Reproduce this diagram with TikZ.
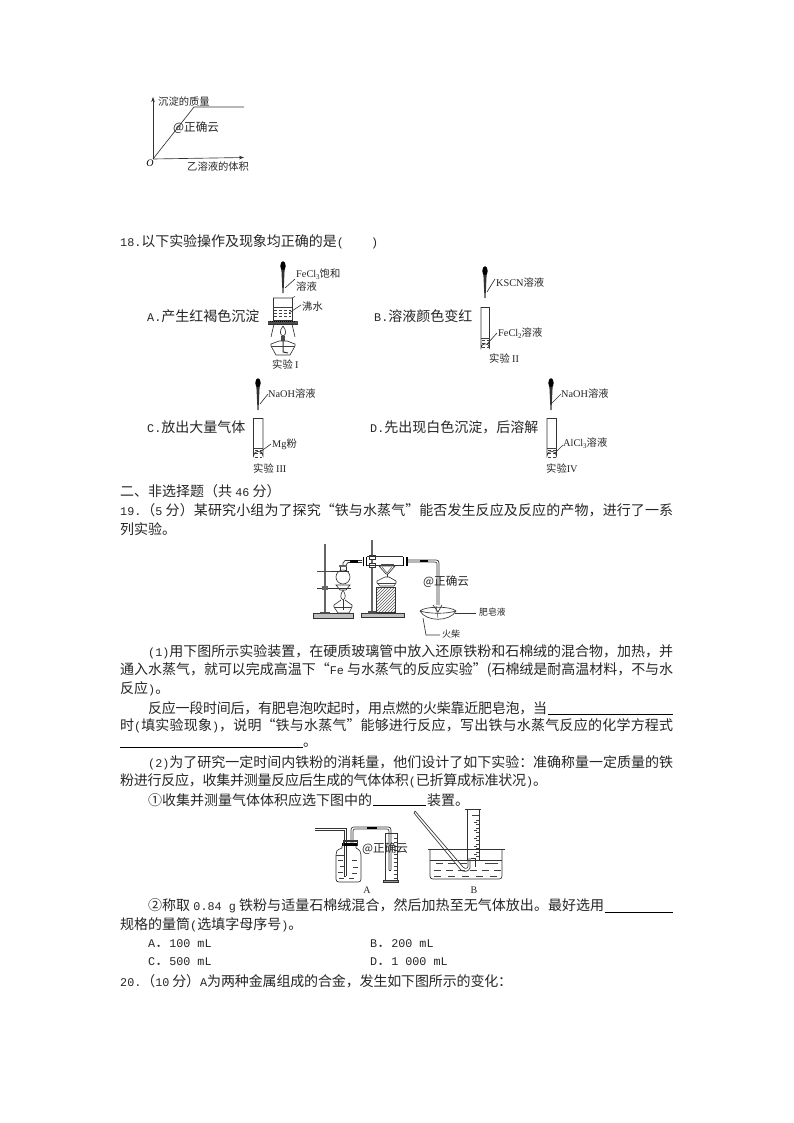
\documentclass[tikz,border=0pt]{standalone}
\usepackage{fontspec}
\usepackage{graphicx}
\usetikzlibrary{patterns,arrows.meta,calc}
\setmainfont{Noto Sans CJK SC}
\newfontfamily\monolat[Scale=0.84]{Liberation Mono}
\newfontfamily\serlat{Liberation Serif}
\newcommand{\MM}[1]{{\monolat #1}}
\newcommand{\SR}[1]{{\serlat #1}}
\XeTeXinterchartokenstate=1
\newXeTeXintercharclass\cjkclass
\newcount\cjkn
\cjkn="4E00 \loop\ifnum\cjkn<"A000 \XeTeXcharclass\cjkn=\cjkclass \advance\cjkn by 1 \repeat
\cjkn="3000 \loop\ifnum\cjkn<"3040 \XeTeXcharclass\cjkn=\cjkclass \advance\cjkn by 1 \repeat
\cjkn="FF00 \loop\ifnum\cjkn<"FF60 \XeTeXcharclass\cjkn=\cjkclass \advance\cjkn by 1 \repeat
\XeTeXinterchartoks\cjkclass\cjkclass={\hskip 0pt plus 1pt minus .5pt\relax}
\tikzset{
  txt/.style={anchor=west,inner sep=0pt,font=\fontsize{14}{16}\selectfont,text=black!85},
  lab/.style={anchor=west,inner sep=0pt,font=\fontsize{10.3}{12}\selectfont,text=black!85},
  wm/.style={anchor=west,inner sep=0pt,font=\fontsize{11.6}{14}\selectfont,text=black!85},
  gl/.style={draw=black!80,line width=.65pt},
  thinl/.style={draw=black!75,line width=.45pt},
  rule/.style={draw=black,line width=.7pt},
}
% justified line of text
\newcommand{\tline}[5]{\node[txt] (#1) at (#2,#3) {\makebox[#4pt][s]{#5}};}
\newcommand{\dropperat}[2]{%
  \begin{scope}[shift={(#1,#2)}]
    \fill[black] (0,4) ellipse (2.7 and 4.8);
    \fill[black!80] (-1.6,8) -- (1.6,8) -- (.5,31) -- (-.5,31) -- cycle;
  \end{scope}}
\newcommand{\tubeat}[5]{% x left, width, y top, y bottom, y liquid
  \draw[gl] (#1,#3) -- (#1+#2,#3);
  \draw[gl] (#1,#3) -- (#1,#4-4) arc[start angle=180,end angle=360,radius=#2/2] -- (#1+#2,#3);
  \draw[thinl] (#1,#5) -- (#1+#2,#5);
  \foreach \dd in {2,5.5,9}{\draw[thinl,densely dashed] (#1+1,#5+\dd) -- (#1+#2-1,#5+\dd);}
}
\newcommand{\gradmarks}[4]{% x, ytop, ybottom, step
  \foreach \yy in {#2,#4,...,#3}{\draw[thinl] (#1,\yy) -- (#1-3,\yy);}
}
\begin{document}
\begin{tikzpicture}[x=1pt,y=-1pt]
\useasboundingbox[fill=white] (0,0) rectangle (794,1123);

% ---------- chart ----------
\coordinate (orig) at (153,159);
\coordinate (ytip) at (153,97);
\coordinate (xtip) at (244,157.5);
\coordinate (knee) at (194,107);
\coordinate (lend) at (244,107);
\draw[gl,-{Stealth[length=5pt,width=3.5pt]}] (orig) -- (ytip);
\draw[gl,-{Stealth[length=5pt,width=3.5pt]}] (orig) -- (xtip);
\draw[gl] (orig) -- (knee) -- (lend);
\node[lab] (cy) at (158,102) {沉淀的质量};
\node[lab] (cx) at (187,167) {乙溶液的体积};
\node[anchor=center,inner sep=0pt,font=\fontsize{10}{12}\selectfont\serlat\itshape] (c0) at (150,163) {O};
\node[wm] (cw) at (173,128) {@正确云};

% ---------- question 18 ----------
\tline{q18}{120}{242}{258}{\MM{18.}以下实验操作及现象均正确的是\MM{(~~~~)}}
\node[txt] (oa) at (147,316) {\MM{A.}产生红褐色沉淀};
\node[txt] (ob) at (374,316) {\MM{B.}溶液颜色变红};
\node[txt] (oc) at (147,427) {\MM{C.}放出大量气体};
\node[txt] (od) at (370,427) {\MM{D.}先出现白色沉淀，后溶解};

% ---------- experiment I ----------
\dropperat{283}{262}
\coordinate (l1a) at (285,288); \coordinate (l1b) at (295,279);
\draw[gl] (l1a) -- (l1b);
\node[lab] (t1a) at (296,274) {\SR{FeCl}\raisebox{-1.5pt}{\fontsize{7}{8}\selectfont\SR{3}}饱和};
\node[lab] (t1b) at (296,287) {溶液};
% beaker
\draw[gl] (273,298) -- (292,298) -- (295,296.5);
\draw[gl] (273,298) -- (273,320) -- (292,320) -- (292,298);
\draw[thinl] (273,307) -- (292,307);
\foreach \yy in {310,313,316}{\draw[thinl,densely dashed] (274,\yy) -- (291,\yy);}
\coordinate (l2a) at (289,313); \coordinate (l2b) at (301,305);
\draw[gl] (l2a) -- (l2b);
\node[lab] (t2) at (302,307) {沸水};
% gauze & ring
\fill[black!70] (268,321) rectangle (298,323.5);
\draw[line width=1pt,densely dotted,black] (270,321) -- (296,321);
\draw[gl] (268,324) -- (298,324);
% tripod
\draw[gl] (274,324) -- (271,337); \draw[gl] (292,324) -- (295,337);
% flame
\draw[gl] (283,326) .. controls (279,331) and (280,335) .. (283,336) .. controls (286,335) and (287,331) .. (283,326);
\fill[black!70] (281,336) rectangle (285,341);
% lamp
\draw[gl] (279,341) -- (271,344) -- (271,346) -- (276,355) -- (290,355) -- (295,346) -- (295,344) -- (287,341) -- cycle;
\draw[thinl] (271,346) -- (295,346);
\draw[gl,line width=1pt] (283,341) -- (283,352) -- (288,353);
\node[lab] (e1) at (272,365) {实验 \SR{I}};

% ---------- experiment II ----------
\dropperat{485}{267}
\coordinate (l3a) at (487,292); \coordinate (l3b) at (495,279);
\draw[gl] (l3a) -- (l3b);
\node[lab] (t3) at (496,283) {\SR{KSCN}溶液};
\tubeat{481}{8.5}{307}{352}{338}
\coordinate (l4a) at (488,343); \coordinate (l4b) at (497,333);
\draw[gl] (l4a) -- (l4b);
\node[lab] (t4) at (498,333) {\SR{FeCl}\raisebox{-1.5pt}{\fontsize{7}{8}\selectfont\SR{2}}溶液};
\node[lab] (e2) at (489,359) {实验 \SR{II}};

% ---------- experiment III ----------
\dropperat{258}{379}
\coordinate (l5a) at (260,404); \coordinate (l5b) at (268,394);
\draw[gl] (l5a) -- (l5b);
\node[lab] (t5) at (268,394) {\SR{NaOH}溶液};
\tubeat{253.5}{9.5}{418}{460}{448}
\coordinate (l6a) at (260,452); \coordinate (l6b) at (271,444);
\draw[gl] (l6a) -- (l6b);
\node[lab] (t6) at (272,444) {\SR{Mg}粉};
\node[lab] (e3) at (253,469) {实验 \SR{III}};

% ---------- experiment IV ----------
\dropperat{551}{379}
\coordinate (l7a) at (552,403); \coordinate (l7b) at (561,394);
\draw[gl] (l7a) -- (l7b);
\node[lab] (t7) at (561,394) {\SR{NaOH}溶液};
\tubeat{547}{9.5}{418}{460}{448}
\coordinate (l8a) at (555,453); \coordinate (l8b) at (563,445);
\draw[gl] (l8a) -- (l8b);
\node[lab] (t8) at (563,443) {\SR{AlCl}\raisebox{-1.5pt}{\fontsize{7}{8}\selectfont\SR{3}}溶液};
\node[lab] (e4) at (546,469) {实验\SR{IV}};

% ---------- section II ----------
\node[txt] (s2) at (120,491) {二、非选择题（共 \MM{46} 分）};
\tline{q19a}{120}{510}{553}{\MM{19.}（\MM{5} 分）某研究小组为了探究“铁与水蒸气”能否发生反应及反应的产物，进行了一系}
\node[txt] (q19b) at (120,529) {列实验。};

% ---------- steam apparatus ----------
% stand 1
\draw[draw=black!60,line width=1.1pt] (325,544) -- (325,613);
\draw[gl,fill=black!25] (313,613.5) rectangle (353,618);
\fill[black!70] (320,612) rectangle (330,614);
% flask
\draw[gl] (343,577) circle (7);
\draw[gl] (340,570.5) -- (340,566) -- (346,566) -- (346,570.5);
\fill[black!60] (339,564.5) rectangle (347,567);
\draw[gl] (317,571) -- (349,571);
\draw[draw=black!70,line width=1pt] (317,571) -- (331,571);
\draw[gl] (317,588) -- (351,588);
\fill[black!60] (322,586) rectangle (328,590);
\draw[gl] (336,585) -- (350,585) -- (346,590) -- (340,590) -- cycle;
% lamp 1
\draw[gl] (343,590) .. controls (340,595) and (340,598) .. (343,600) .. controls (346,598) and (346,595) .. (343,590);
\draw[gl] (341,600) -- (334,605) -- (334,607) -- (338,613) -- (349,613) -- (352,607) -- (352,605) -- (345,600);
\draw[thinl] (334,607) -- (352,607);
\draw[gl,line width=.9pt] (343,600) -- (343,610);
% tube 1
\draw[gl] (343,565) -- (343,563) -- (345,560.5) -- (362,560.5);
\draw[gl] (346,565) -- (348,562.5) -- (362,562.5);
\fill[black] (350,560) rectangle (358,563);
\draw[draw=black,line width=1.3pt] (363.5,557) -- (363.5,566);
\draw[draw=black,line width=1.3pt] (366.5,557) -- (366.5,566);
% stand 2
\draw[draw=black!60,line width=1.1pt] (372,540) -- (372,613);
\draw[gl,fill=black!25] (361,613) rectangle (404,617);
\fill[black!70] (368,611) rectangle (377,613.5);
\draw[gl,fill=white] (369,555) rectangle (375,559);
\draw[gl,fill=white] (369,563) rectangle (375,567);
% hard tube
\draw[gl] (367,556) -- (403,556);
\draw[gl] (367,565) -- (403,565);
\fill[black!70] (381,563.5) rectangle (394,565.5);
% wire gauze & lamp 2
\draw[gl] (379,566) -- (395,566) -- (388,574) -- (386,574) -- cycle;
\draw[thinl] (382,567) -- (387,573); \draw[thinl] (392,567) -- (387,573);
\draw[gl] (387,574) -- (387,577);
\draw[gl] (385,577) -- (377,581) -- (377,583) -- (380,586) -- (394,586) -- (396,583) -- (396,581) -- (389,577) -- cycle;
\draw[thinl] (377,583) -- (396,583);
% block
\draw[gl,pattern=north east lines,pattern color=black!65] (376,587) rectangle (395,612.5);
% right tube
\draw[draw=black,line width=1.3pt] (403.5,557) -- (403.5,566);
\draw[draw=black,line width=1.3pt] (407,557) -- (407,566);
\draw[gl] (408,560) -- (436,560) .. controls (438,560) and (439,561) .. (439,563) -- (439,605);
\draw[gl] (408,562) -- (435,562) .. controls (436.5,562) and (437,563) .. (437,564) -- (437,605);
\fill[black] (420,560) rectangle (428,562.4);
% dish
\draw[gl] (420,611) .. controls (425,606) and (451,606) .. (456,611);
\draw[gl] (420,611) .. controls (426,622) and (450,622) .. (456,611);
\draw[gl] (420,611) .. controls (430,614) and (446,614) .. (456,611);
\draw[gl] (433,605) -- (438,612) -- (442,605);
\draw[thinl] (436,606) -- (438,618);
% soap label
\coordinate (soapa) at (455,613); \coordinate (soapb) at (476,613);
\draw[gl] (soapa) -- (soapb);
\node[lab,font=\fontsize{8.8}{10}\selectfont] (soap) at (479,612) {肥皂液};
\coordinate (ma) at (423,618); \coordinate (mb) at (426,635); \coordinate (mc) at (440,635);
\draw[gl] (ma) -- (mb) -- (mc);
\node[lab,font=\fontsize{9}{10}\selectfont] (match) at (442,634) {火柴};
\node[wm] (w19) at (423,582) {@正确云};

% ---------- paragraphs ----------
\tline{p1}{148}{651.5}{525}{\MM{(1)}用下图所示实验装置，在硬质玻璃管中放入还原铁粉和石棉绒的混合物，加热，并}
\tline{p2}{120}{670}{553}{通入水蒸气，就可以完成高温下“\MM{Fe} 与水蒸气的反应实验”(石棉绒是耐高温材料，不与水}
\node[txt] (p3) at (120,689) {反应\MM{)}。};
\tline{p4}{148}{708}{399}{反应一段时间后，有肥皂泡吹起时，用点燃的火柴靠近肥皂泡，当}
\coordinate (u1a) at (548,714); \coordinate (u1b) at (673,714);
\draw[rule] (u1a) -- (u1b);
\tline{p5}{120}{726}{553}{时\MM{(}填实验现象\MM{)}，说明“铁与水蒸气”能够进行反应，写出铁与水蒸气反应的化学方程式}
\coordinate (u2a) at (120,747.5); \coordinate (u2b) at (303,747.5);
\draw[rule] (u2a) -- (u2b);
\node[txt] (p6) at (303,745) {。};
\tline{p7}{148}{763}{525}{\MM{(2)}为了研究一定时间内铁粉的消耗量，他们设计了如下实验：准确称量一定质量的铁}
\tline{p8}{120}{781}{427}{粉进行反应，收集并测量反应后生成的气体体积\MM{(}已折算成标准状况\MM{)}。}
\node[txt] (p9) at (148,800) {①收集并测量气体体积应选下图中的};
\coordinate (u3a) at (373,805.5); \coordinate (u3b) at (426,805.5);
\draw[rule] (u3a) -- (u3b);
\node[txt] (p10) at (427,800) {装置。};

% ---------- apparatus A ----------
\draw[gl] (315,828) -- (346,828) -- (346,876);
\draw[gl] (315,830) -- (344,830) -- (344,876) ;
\draw[gl] (344,876) -- (346,876);
\draw[gl] (351,844) -- (351,830) .. controls (351,828) and (352,827) .. (354,827) -- (388,827) .. controls (390,827) and (391,828) .. (391,830) -- (391,870);
\draw[gl] (353,844) -- (353,831) .. controls (353,830) and (354,829) .. (355,829) -- (387,829) .. controls (388,829) and (389,830) .. (389,831) -- (389,870);
\draw[gl] (389,870) -- (391,870);
\fill[black] (367,827) rectangle (377,829.3);
\fill[black] (342,843) rectangle (358,846);
\fill[black!80] (343,840) rectangle (357,841.5);
\draw[gl] (343,840) -- (343,846); \draw[gl] (357,840) -- (357,846);
\draw[gl] (342,846) -- (342,848) .. controls (336,850) and (336,852) .. (336,855) -- (336,879) .. controls (336,881) and (337,882) .. (339,882) -- (358,882) .. controls (360,882) and (361,881) .. (361,879) -- (361,855) .. controls (361,852) and (360,850) .. (356,848) -- (356,846);
\draw[thinl] (336,855) -- (344,855);
\foreach \xa/\yy in {338/860,352/860,340/866,353/867,338/872,352/873,349/878,339/878}{\draw[thinl] (\xa,\yy) -- (\xa+5,\yy);}
% cylinder A
\draw[gl] (385,833) -- (397,833);
\draw[gl] (385,833) -- (385,880); \draw[gl] (397,833) -- (397,880);
\draw[gl,fill=black!40] (383,880) rectangle (398,882.5);
\gradmarks{397}{838}{878}{842}
\node[lab,anchor=center,font=\fontsize{10}{12}\selectfont\serlat] (la) at (367,890) {A};
\node[wm] (wa) at (362,849) {@正确云};

% ---------- apparatus B ----------
\draw[gl] (428,849) -- (505,849);
\draw[gl] (430,849) -- (430,876) .. controls (430,878) and (431,879) .. (433,879) -- (499,879) .. controls (501,879) and (502,878) .. (502,876) -- (502,849);
\draw[gl] (430,860) -- (502,860);
\foreach \xa/\yy in {436/863,448/863,460/863,485/863,491/863,434/870,446/870,458/870,470/870,482/870,494/870,434/876,448/876,462/876,476/876,490/876}{\draw[thinl] (\xa,\yy) -- (\xa+7,\yy);}
% inverted cylinder
\draw[gl] (465,809) -- (481,809);
\draw[gl] (467,809) -- (467,861); \draw[gl] (479,809) -- (479,861);
\draw[thinl] (472,815) -- (479,815);
\gradmarks{479}{820}{858}{824}
\gradmarks{477}{822}{858}{830}
% delivery tube
\draw[gl] (415,811) -- (414,813) -- (461,870) .. controls (463,872) and (469,872) .. (470,868) -- (470,858);
\draw[gl] (415,811) -- (463,867) .. controls (465,869) and (468,869) .. (468,866) -- (468,858);
\draw[gl] (471,858) -- (475,858) -- (475,867);
\node[lab,anchor=center,font=\fontsize{10}{12}\selectfont\serlat] (lb) at (474,890) {B};

% ---------- bottom text ----------
\tline{p11}{148}{906}{456}{②称取 \MM{0.84 g} 铁粉与适量石棉绒混合，然后加热至无气体放出。最好选用}
\coordinate (u4a) at (605,912); \coordinate (u4b) at (673,912);
\draw[rule] (u4a) -- (u4b);
\node[txt] (p12) at (120,925) {规格的量筒\MM{(}选填字母序号\MM{)}。};
\node[txt] (oA) at (148,944) {\MM{A}．\MM{100 mL}};
\node[txt] (oB) at (370,944) {\MM{B}．\MM{200 mL}};
\node[txt] (oC) at (148,962) {\MM{C}．\MM{500 mL}};
\node[txt] (oD) at (370,962) {\MM{D}．\MM{1 000 mL}};
\tline{q20}{120}{981}{392}{\MM{20.}（\MM{10} 分）\MM{A}为两种金属组成的合金，发生如下图所示的变化：}
\end{tikzpicture}
\end{document}
